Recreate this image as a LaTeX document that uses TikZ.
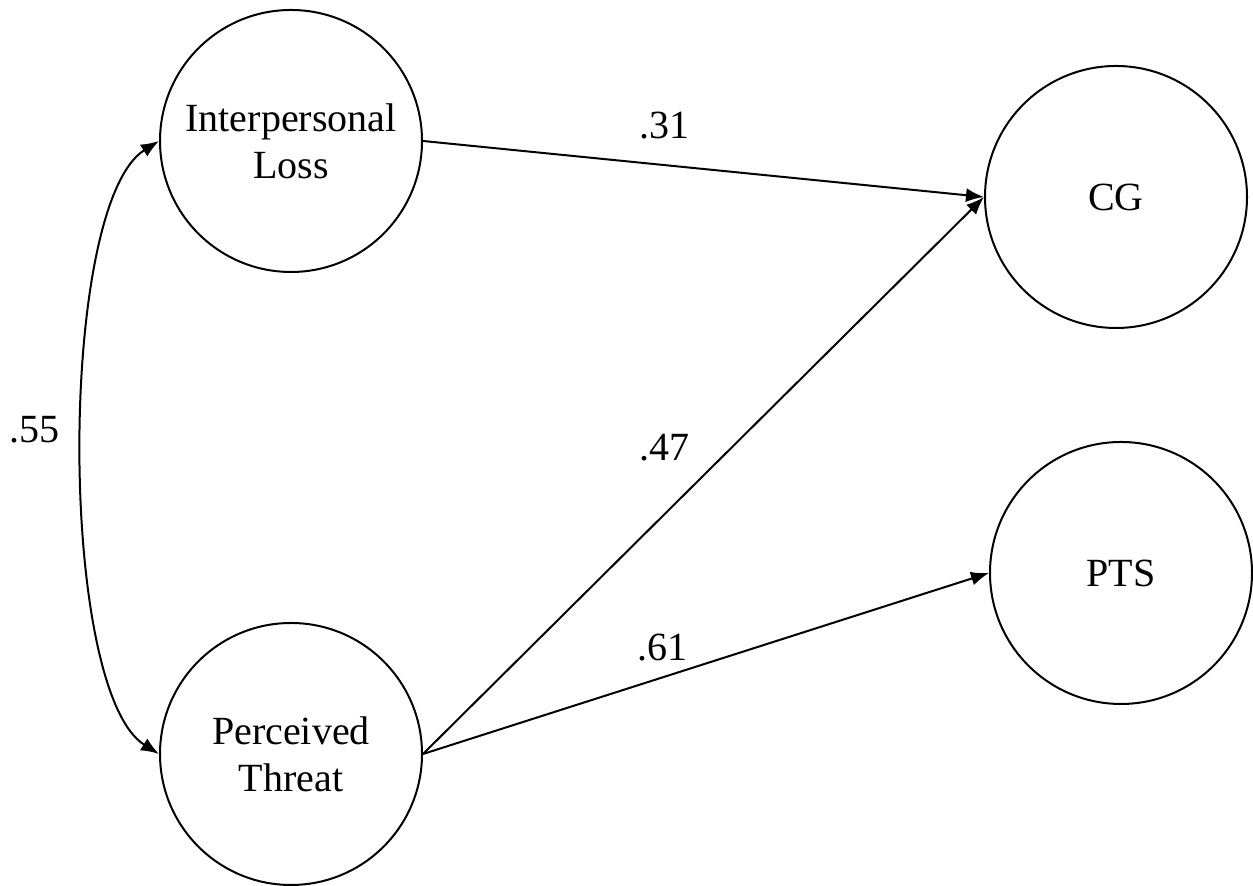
\documentclass[tikz,border=0pt]{standalone}
\usepackage{fontspec}
\setmainfont{Liberation Serif}
\usetikzlibrary{arrows.meta}
\tikzset{
  latent/.style={circle, draw=black, line width=1pt, minimum size=131pt, inner sep=0pt, align=center, font=\fontsize{20}{23.5}\selectfont},
  conn/.style={draw=black, line width=1pt, -{Latex[length=9pt,width=7pt]}},
  cov/.style={draw=black, line width=1pt, {Latex[length=9pt,width=7pt]}-{Latex[length=9pt,width=7pt]}},
  lbl/.style={font=\fontsize{20}{24}\selectfont}
}
\begin{document}
\begin{tikzpicture}[x=0.5pt,y=0.5pt]
  \useasboundingbox (0,0) rectangle (1253,886);

  \node[latent] (IL)  at (291,745)  {Interpersonal\\Loss};
  \node[latent] (PT)  at (291,132)  {Perceived\\Threat};
  \node[latent] (CG)  at (1116,689) {CG};
  \node[latent] (PTS) at (1121,313) {PTS};

  \draw[conn] (IL.east) -- (CG.west);
  \draw[conn] (PT.east) -- (CG.west);
  \draw[conn] (PT.east) -- (PTS.west);
  \draw[cov] (IL.west) to[out=212, in=148, looseness=0.5] (PT.west);  % correlation

  \node[lbl] (b31) at (664,760) {.31};
  \node[lbl] (b47) at (664,438) {.47};
  \node[lbl] (b61) at (662,238) {.61};
  \node[lbl] (b55) at (35,456)  {.55};
\end{tikzpicture}
\end{document}
